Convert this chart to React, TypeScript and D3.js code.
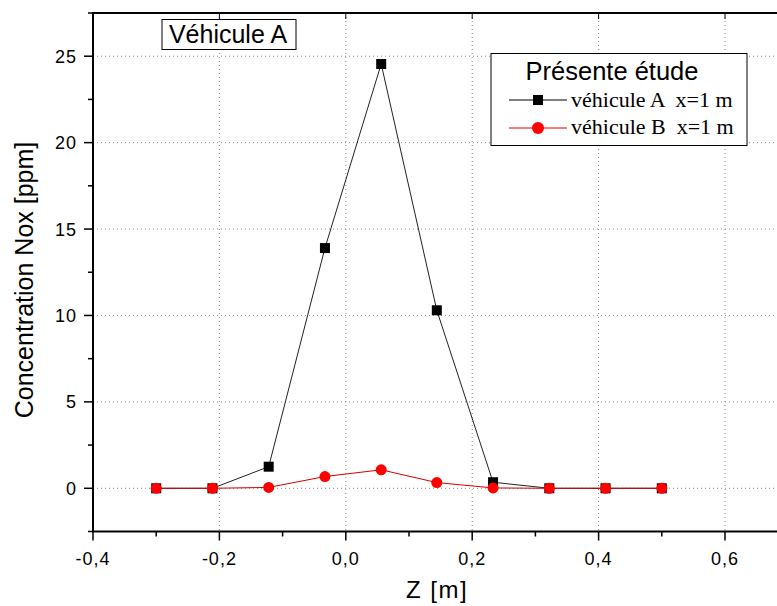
import React, { useEffect } from "react";
import * as d3 from "d3";

const zValues = [-0.3, -0.211, -0.122, -0.033, 0.056, 0.144, 0.233, 0.322, 0.411, 0.5];
const seriesA = [0, 0, 1.25, 13.9, 24.55, 10.3, 0.35, 0, 0, 0];
const seriesB = [0, 0, 0.05, 0.68, 1.07, 0.33, 0.02, 0, 0, 0];
const xMajorTicks = [-0.4, -0.2, 0.0, 0.2, 0.4, 0.6];
const xMinorTicks = [-0.3, -0.1, 0.1, 0.3, 0.5, 0.7];
const yMajorTicks = [0, 5, 10, 15, 20, 25];
const yMinorTicks = [-2.5, 2.5, 7.5, 12.5, 17.5, 22.5, 27.5];
const legendTitle = "Présente étude";
const legendLabels = ["véhicule A  x=1 m", "véhicule B  x=1 m"];
const boxTitle = "Véhicule A";

const W = 777;
const H = 606;
const L = 93;
const T = 13;
const B = 531.5;

const fmt = (v: number) => d3.format(".1f")(v).replace(".", ",").replace("−", "-");

export default function App() {
  useEffect(() => {
    document.body.style.margin = "0";
  }, []);

  const x = d3.scaleLinear().domain([-0.4, 0.8]).range([L, L + 1.2 * 632]);
  const y = d3.scaleLinear().domain([-2.5, 27.5]).range([B, T]);
  const line = d3
    .line<number>()
    .x((_, i) => x(zValues[i]))
    .y((d) => y(d));

  const R = W;
  const sans = "Arial, 'Liberation Sans', sans-serif";
  const serif = "'Times New Roman', 'Liberation Serif', serif";

  return (
    <svg width={W} height={H} style={{ display: "block", background: "#fff" }}>
      <rect x={0} y={0} width={W} height={H} fill="#fff" />
      {/* grid */}
      {xMajorTicks.slice(1).map((t) => (
        <line key={"gx" + t} x1={x(t)} x2={x(t)} y1={T} y2={B} stroke="#8a8a8a" strokeWidth={1} strokeDasharray="1,3" />
      ))}
      {yMajorTicks.map((t) => (
        <line key={"gy" + t} x1={L} x2={R} y1={y(t)} y2={y(t)} stroke="#8a8a8a" strokeWidth={1} strokeDasharray="1,3" />
      ))}
      {/* series */}
      <path d={line(seriesA) || ""} fill="none" stroke="#222" strokeWidth={1} />
      {seriesA.map((v, i) => (
        <rect key={"a" + i} x={x(zValues[i]) - 5} y={y(v) - 5} width={10} height={10} fill="#000" />
      ))}
      <path d={line(seriesB) || ""} fill="none" stroke="#d40000" strokeWidth={1} />
      {seriesB.map((v, i) => (
        <circle key={"b" + i} cx={x(zValues[i])} cy={y(v)} r={5.5} fill="#ff0000" />
      ))}
      {/* axes */}
      <line x1={L} x2={L} y1={T} y2={B} stroke="#000" strokeWidth={2} />
      <line x1={L - 1} x2={R} y1={B} y2={B} stroke="#000" strokeWidth={2} />
      <line x1={L - 1} x2={R} y1={T} y2={T} stroke="#000" strokeWidth={2} />
      {yMajorTicks.map((t) => (
        <g key={"yt" + t}>
          <line x1={L - 9} x2={L} y1={y(t)} y2={y(t)} stroke="#000" strokeWidth={1.5} />
          <text x={L - 16} y={y(t) + 6.5} textAnchor="end" fontFamily={sans} fontSize={18} letterSpacing={1} fill="#000">
            {t}
          </text>
        </g>
      ))}
      {yMinorTicks.map((t) => (
        <line key={"ym" + t} x1={L - 5} x2={L} y1={y(t)} y2={y(t)} stroke="#000" strokeWidth={1.5} />
      ))}
      {xMajorTicks.map((t) => (
        <g key={"xt" + t}>
          <line x1={x(t)} x2={x(t)} y1={B} y2={B + 9} stroke="#000" strokeWidth={1.5} />
          <line x1={x(t)} x2={x(t)} y1={T} y2={T + 6} stroke="#000" strokeWidth={1} />
          <text x={x(t)} y={B + 33} textAnchor="middle" fontFamily={sans} fontSize={18} letterSpacing={1} fill="#000">
            {fmt(t)}
          </text>
        </g>
      ))}
      {xMinorTicks.map((t) => (
        <line key={"xm" + t} x1={x(t)} x2={x(t)} y1={B} y2={B + 5} stroke="#000" strokeWidth={1.5} />
      ))}
      {/* axis titles */}
      <text x={437} y={598} textAnchor="middle" fontFamily={sans} fontSize={24} letterSpacing={1.5} fill="#000">
        Z [m]
      </text>
      <text
        transform={`translate(33,280) rotate(-90)`}
        textAnchor="middle"
        fontFamily={sans}
        fontSize={25}
        fill="#000"
      >
        Concentration Nox [ppm]
      </text>
      {/* title box */}
      <rect x={162} y={19.5} width={134} height={30} fill="#fff" stroke="#000" strokeWidth={1} />
      <text x={228} y={43} textAnchor="middle" fontFamily={sans} fontSize={25} fill="#000">
        {boxTitle}
      </text>
      {/* legend */}
      <rect x={491} y={53.5} width={256} height={92} fill="#fff" stroke="#000" strokeWidth={1} />
      <text x={612} y={80} textAnchor="middle" fontFamily={sans} fontSize={25.5} fill="#000">
        {legendTitle}
      </text>
      <line x1={509} x2={567} y1={100} y2={100} stroke="#000" strokeWidth={1} />
      <rect x={533} y={95} width={10} height={10} fill="#000" />
      <text x={571} y={107} fontFamily={serif} fontSize={22} fill="#000" style={{ whiteSpace: "pre" }}>
        {legendLabels[0]}
      </text>
      <line x1={509} x2={567} y1={128} y2={128} stroke="#e00000" strokeWidth={1} />
      <circle cx={538} cy={128} r={6} fill="#ff0000" />
      <text x={571} y={134} fontFamily={serif} fontSize={22} fill="#000" style={{ whiteSpace: "pre" }}>
        {legendLabels[1]}
      </text>
    </svg>
  );
}
